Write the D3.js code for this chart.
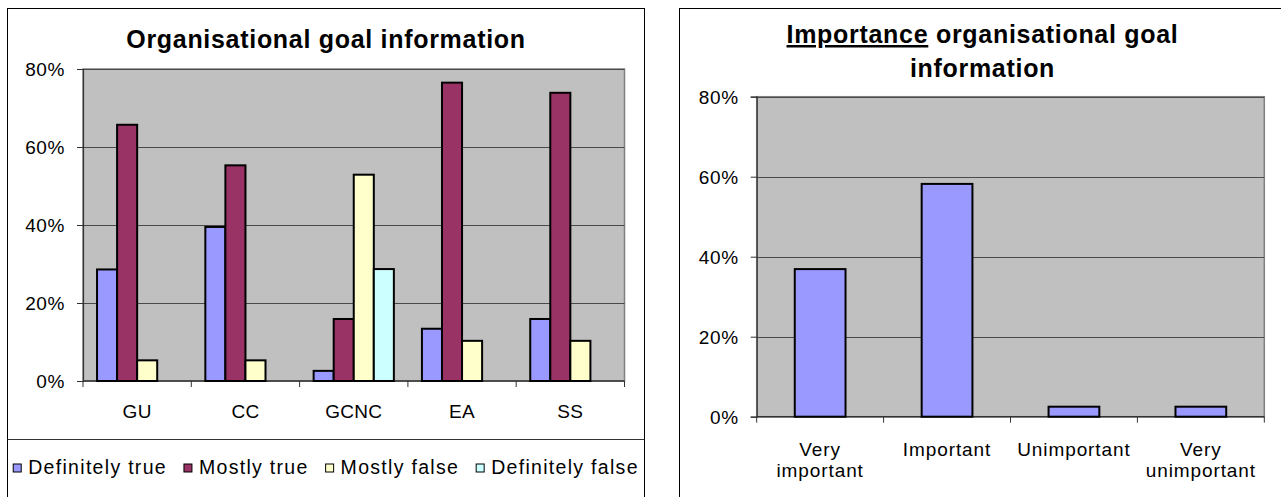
<!DOCTYPE html>
<html>
<head>
<meta charset="utf-8">
<script src="https://cdn.jsdelivr.net/npm/d3@7"></script>
<style>
  html, body { margin: 0; padding: 0; background: #fff; }
  svg { display: block; }
  text { font-family: "Liberation Sans", Arial, sans-serif; fill: #000; }
</style>
</head>
<body>
<svg id="chart" width="1281" height="497"></svg>
<script>
// ---- Data: organisational goal information per unit ----
const units = ["GU", "CC", "GCNC", "EA", "SS"];
const answers = ["Definitely true", "Mostly true", "Mostly false", "Definitely false"];
const definitelyTrue  = [28.6, 39.5, 2.6, 13.4, 15.9];
const mostlyTrue      = [65.7, 55.3, 15.9, 76.5, 73.9];
const mostlyFalse     = [5.3, 5.3, 52.9, 10.3, 10.3];
const definitelyFalse = [0, 0, 28.7, 0, 0];
const answerColors = ["#9999FF", "#993366", "#FFFFCC", "#CCFFFF"];

// ---- Data: importance of organisational goal information ----
const importanceLevels = [["Very", "important"], ["Important"], ["Unimportant"], ["Very", "unimportant"]];
const importanceShares = [36.9, 58.2, 2.5, 2.5];

const yTicks = [0, 20, 40, 60, 80];

const svg = d3.select("#chart");
const fmt = d => d + "%";
const LABEL_SIZE = 19;
const TITLE_SIZE = 25, TITLE_SPACING = "0.7px";

// Outer chart frames
svg.append("rect").attr("x", 7.5).attr("y", 8.5).attr("width", 637).attr("height", 500)
  .attr("fill", "#fff").attr("stroke", "#000").attr("stroke-width", 1);
svg.append("line").attr("x1", 7.5).attr("x2", 644.5).attr("y1", 439.5).attr("y2", 439.5)
  .attr("stroke", "#333").attr("stroke-width", 1);
svg.append("rect").attr("x", 679.5).attr("y", 8.5).attr("width", 620).attr("height", 500)
  .attr("fill", "#fff").attr("stroke", "#000").attr("stroke-width", 1);

function drawPlotFrame(g, x0, x1, y, nBands) {
  const y0 = y.range()[0], yTop = y.range()[1];
  g.append("rect").attr("x", x0).attr("y", yTop).attr("width", x1 - x0).attr("height", y0 - yTop)
    .attr("fill", "#C0C0C0").attr("stroke", "#808080").attr("stroke-width", 1.5);
  // horizontal gridlines
  g.selectAll("line.grid").data(yTicks.filter(t => t > 0)).join("line")
    .attr("class", "grid")
    .attr("x1", x0).attr("x2", x1)
    .attr("y1", d => Math.round(y(d)) + 0.5).attr("y2", d => Math.round(y(d)) + 0.5)
    .attr("stroke", "#4a4a4a").attr("stroke-width", 1);
  // y axis
  const ax = d3.axisLeft(y).tickValues(yTicks).tickFormat(fmt).tickSize(6).tickPadding(12);
  const ga = g.append("g").attr("transform", `translate(${x0},0)`).call(ax);
  ga.select(".domain").attr("stroke", "#333").attr("stroke-width", 1.2);
  ga.selectAll(".tick line").attr("stroke", "#333");
  ga.selectAll(".tick text").attr("font-size", LABEL_SIZE).attr("letter-spacing", "0.6px")
    .attr("font-family", "Liberation Sans, Arial, sans-serif").attr("fill", "#000")
    .attr("dy", "0.36em");
  // x axis line with ticks at band boundaries
  g.append("line").attr("x1", x0).attr("x2", x1).attr("y1", y0).attr("y2", y0)
    .attr("stroke", "#333").attr("stroke-width", 1.5);
  const bw = (x1 - x0) / nBands;
  g.selectAll("line.xt").data(d3.range(nBands + 1)).join("line")
    .attr("class", "xt")
    .attr("x1", i => x0 + i * bw).attr("x2", i => x0 + i * bw)
    .attr("y1", y0).attr("y2", y0 + 6)
    .attr("stroke", "#333").attr("stroke-width", 1);
}

// ================= Left chart =================
{
  const g = svg.append("g");
  const x0 = 83, x1 = 624.5;
  const y = d3.scaleLinear().domain([0, 80]).range([381, 69]);
  const x = d3.scaleBand().domain(units).range([x0, x1]).paddingInner(0).paddingOuter(0);
  const bw = x.bandwidth();
  const barW = bw / 5.4;
  const groupOffset = (bw - barW * 4) / 2;
  const xs = d3.scaleBand().domain(answers).range([groupOffset, groupOffset + barW * 4]).padding(0);

  drawPlotFrame(g, x0, x1, y, units.length);

  g.append("text").attr("x", 326).attr("y", 48).attr("text-anchor", "middle")
    .attr("font-size", TITLE_SIZE).attr("font-weight", "bold").attr("letter-spacing", TITLE_SPACING)
    .text("Organisational goal information");

  const seriesValues = [definitelyTrue, mostlyTrue, mostlyFalse, definitelyFalse];
  const cells = [];
  units.forEach((u, i) => answers.forEach((a, j) => {
    const v = seriesValues[j][i];
    if (v > 0) cells.push({ unit: u, answer: a, value: v, color: answerColors[j] });
  }));
  g.selectAll("rect.bar").data(cells).join("rect")
    .attr("class", "bar")
    .attr("x", d => x(d.unit) + xs(d.answer))
    .attr("width", xs.bandwidth())
    .attr("y", d => y(d.value))
    .attr("height", d => y(0) - y(d.value))
    .attr("fill", d => d.color)
    .attr("stroke", "#000").attr("stroke-width", 2);

  g.selectAll("text.cat").data(units).join("text")
    .attr("class", "cat")
    .attr("x", d => x(d) + bw / 2).attr("y", 418)
    .attr("text-anchor", "middle").attr("font-size", LABEL_SIZE).attr("letter-spacing", "0.3px")
    .text(d => d);

  // legend laid out from measured text widths, centred in the legend box
  const lg = g.append("g");
  const items = lg.selectAll("g.item").data(answers).join("g").attr("class", "item");
  items.append("rect").attr("width", 8).attr("height", 8).attr("y", 464)
    .attr("fill", (d, i) => answerColors[i]).attr("stroke", "#000").attr("stroke-width", 1);
  items.append("text").attr("x", 15).attr("y", 474).attr("font-size", 19.5)
    .attr("letter-spacing", "1.3px").text(d => d);
  const widths = [];
  items.each(function () { widths.push(15 + d3.select(this).select("text").node().getComputedTextLength()); });
  const gap = 17;
  const total = d3.sum(widths) + gap * (widths.length - 1);
  let cx = 326 - total / 2;
  items.attr("transform", (d, i) => {
    const t = `translate(${cx},0)`;
    cx += widths[i] + gap;
    return t;
  });
}

// ================= Right chart =================
{
  const g = svg.append("g");
  const x0 = 756.7, x1 = 1264.3;
  const y = d3.scaleLinear().domain([0, 80]).range([416.7, 96.7]);
  const keys = importanceLevels.map(d => d.join(" "));
  const x = d3.scaleBand().domain(keys).range([x0, x1]).paddingInner(0).paddingOuter(0);
  const bw = x.bandwidth();
  const barW = bw / 2.5;

  drawPlotFrame(g, x0, x1, y, keys.length);

  const title = g.append("text").attr("x", 982.5).attr("text-anchor", "middle")
    .attr("font-size", TITLE_SIZE).attr("font-weight", "bold").attr("letter-spacing", TITLE_SPACING);
  const l1 = title.append("tspan").attr("x", 982.5).attr("y", 43);
  l1.append("tspan").style("text-decoration", "underline").text("Importance");
  l1.append("tspan").text(" organisational goal");
  title.append("tspan").attr("x", 982.5).attr("y", 77).text("information");

  const data = keys.map((k, i) => ({ key: k, value: importanceShares[i], lines: importanceLevels[i] }));
  g.selectAll("rect.bar").data(data).join("rect")
    .attr("class", "bar")
    .attr("x", d => x(d.key) + (bw - barW) / 2)
    .attr("width", barW)
    .attr("y", d => y(d.value))
    .attr("height", d => y(0) - y(d.value))
    .attr("fill", "#9999FF")
    .attr("stroke", "#000").attr("stroke-width", 2);

  const labels = g.selectAll("text.cat").data(data).join("text")
    .attr("class", "cat").attr("text-anchor", "middle")
    .attr("font-size", LABEL_SIZE).attr("letter-spacing", "0.9px");
  labels.selectAll("tspan").data(d => d.lines.map((l, j) => ({ l, j, key: d.key }))).join("tspan")
    .attr("x", d => x(d.key) + bw / 2)
    .attr("y", d => 456 + d.j * 21)
    .text(d => d.l);
}
</script>
</body>
</html>
